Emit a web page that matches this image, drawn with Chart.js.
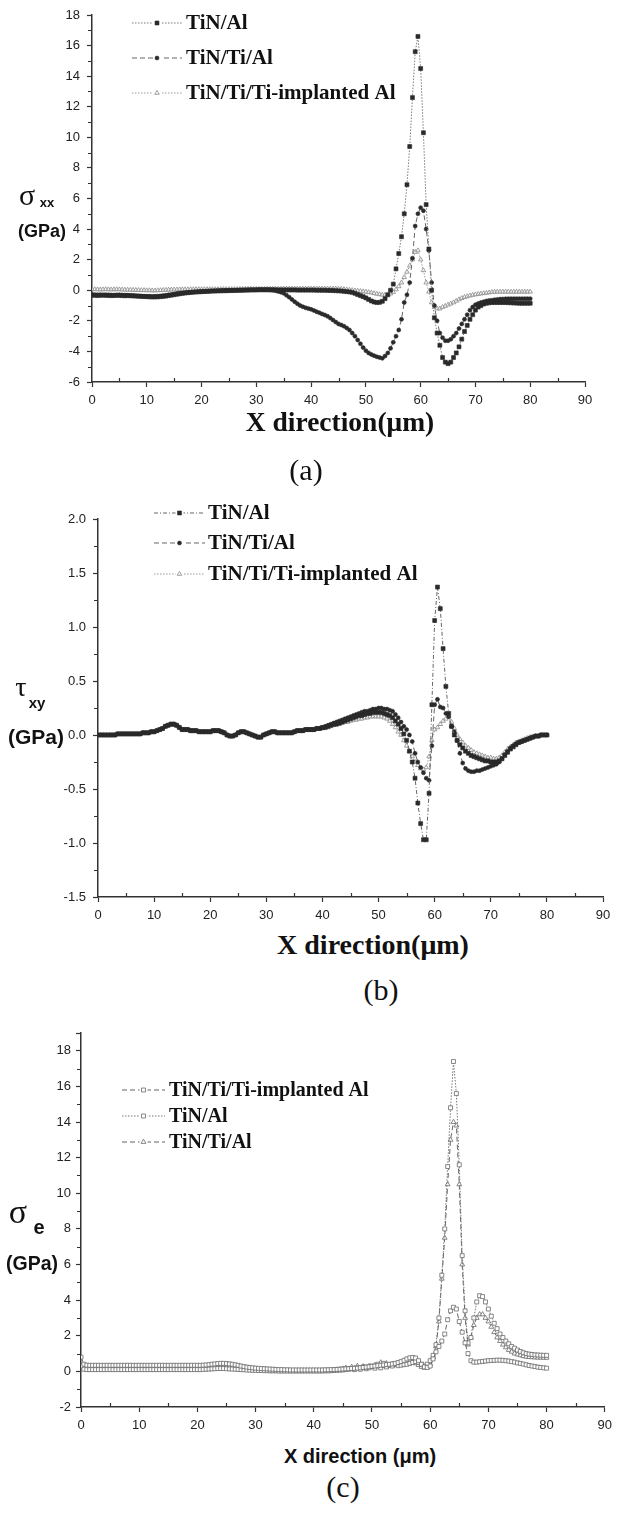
<!DOCTYPE html>
<html>
<head>
<meta charset="utf-8">
<title>Stress distribution along X direction</title>
<script src="https://cdn.jsdelivr.net/npm/chart.js@4.4.1/dist/chart.umd.min.js"></script>
<style>
  html, body { margin: 0; padding: 0; background: #fff; }
  #page { position: relative; width: 618px; height: 1514px; overflow: hidden; background: #fff; }
  canvas { position: absolute; left: 0; }
  .lbl { position: absolute; transform: translate(-50%, -50%); white-space: nowrap; line-height: 1; color: #111; }
  .serif { font-family: "Liberation Serif", "Times New Roman", serif; }
  .sans { font-family: "Liberation Sans", Arial, sans-serif; font-weight: bold; }
  .xt { font-weight: bold; }
  .panel { font-size: 30px; }
</style>
</head>
<body>
<div id="page">
  <canvas id="chartA" width="618" height="410" style="top:0px"></canvas>
  <canvas id="chartB" width="618" height="447" style="top:480px"></canvas>
  <canvas id="chartC" width="618" height="430" style="top:1010px"></canvas>

  <!-- panel (a) -->
  <div class="lbl serif" style="left:27px;top:195px;font-size:30px">σ</div>
  <div class="lbl sans" style="left:47px;top:202px;font-size:13px">xx</div>
  <div class="lbl sans" style="left:42px;top:231px;font-size:18px">(GPa)</div>
  <div class="lbl serif xt" style="left:340px;top:422px;font-size:27.5px">X direction(μm)</div>
  <div class="lbl serif panel" style="left:306px;top:470px">(a)</div>

  <!-- panel (b) -->
  <div class="lbl serif" style="left:21px;top:687px;font-size:28px">τ</div>
  <div class="lbl sans" style="left:37px;top:702px;font-size:15px">xy</div>
  <div class="lbl sans" style="left:36px;top:736px;font-size:21px">(GPa)</div>
  <div class="lbl serif xt" style="left:373px;top:945px;font-size:28px">X direction(μm)</div>
  <div class="lbl serif panel" style="left:381px;top:990px">(b)</div>

  <!-- panel (c) -->
  <div class="lbl serif" style="left:18px;top:1212px;font-size:34px">σ</div>
  <div class="lbl sans" style="left:39px;top:1227px;font-size:20px">e</div>
  <div class="lbl sans" style="left:32px;top:1264px;font-size:19.5px">(GPa)</div>
  <div class="lbl sans" style="left:360px;top:1456px;font-size:20px">X direction (μm)</div>
  <div class="lbl serif panel" style="left:343px;top:1487px">(c)</div>
</div>

<script>
// sampling grid: one point every 0.5 um, 0 .. 80 um (161 points)
const X_STEP_UM = 0.5;

// ---- panel (a): sigma_xx (GPa) ----
const SXX_TIN_AL = [
  -0.32,-0.33,-0.34,-0.33,-0.32,-0.33,-0.34,-0.35,-0.34,-0.33,-0.34,-0.35,-0.36,-0.35,-0.36,-0.37,-0.38,-0.39,-0.40,-0.41,
  -0.42,-0.43,-0.44,-0.44,-0.43,-0.42,-0.40,-0.38,-0.35,-0.32,-0.29,-0.26,-0.23,-0.20,-0.18,-0.16,-0.14,-0.12,-0.11,-0.10,
  -0.09,-0.08,-0.07,-0.06,-0.05,-0.05,-0.04,-0.04,-0.03,-0.03,-0.02,-0.02,-0.01,-0.01,0,0,0.01,0.01,0.02,0.02,
  0.02,0.03,0.03,0.03,0.03,0.03,0.03,0.03,0.02,0.02,0.02,0.02,0.02,0.02,0.02,0.01,0.01,0.01,0.01,0.01,
  0.01,0.01,0,0,0,0,-0.01,-0.01,-0.02,-0.03,-0.04,-0.05,-0.07,-0.09,-0.11,-0.14,-0.2,-0.28,-0.35,-0.42,
  -0.5,-0.6,-0.7,-0.77,-0.8,-0.79,-0.72,-0.55,-0.3,0.0,0.4,1.4,2.4,3.5,5.0,6.9,9.4,12.6,15.6,16.6,
  14.5,10.3,5.6,2.7,0.0,-1.8,-2.8,-3.6,-4.4,-4.7,-4.8,-4.7,-4.4,-4.1,-3.7,-3.2,-2.7,-2.3,-1.9,-1.6,
  -1.3,-1.1,-1.0,-0.9,-0.85,-0.82,-0.8,-0.8,-0.8,-0.8,-0.8,-0.8,-0.81,-0.82,-0.83,-0.84,-0.85,-0.85,-0.85,-0.85,
  -0.85
];
const SXX_TIN_TI_AL = [
  -0.28,-0.29,-0.3,-0.3,-0.31,-0.3,-0.3,-0.31,-0.32,-0.31,-0.3,-0.31,-0.32,-0.33,-0.34,-0.35,-0.36,-0.37,-0.38,-0.39,
  -0.4,-0.4,-0.41,-0.4,-0.39,-0.37,-0.35,-0.33,-0.3,-0.28,-0.25,-0.22,-0.2,-0.18,-0.16,-0.14,-0.13,-0.12,-0.11,-0.1,
  -0.09,-0.08,-0.07,-0.06,-0.05,-0.04,-0.03,-0.02,-0.02,-0.01,-0.01,0,0,0.01,0.01,0.02,0.02,0.03,0.03,0.03,
  0.04,0.04,0.04,0.03,0.03,0.02,0.0,-0.03,-0.08,-0.13,-0.2,-0.32,-0.45,-0.6,-0.75,-0.88,-1.0,-1.08,-1.15,-1.2,
  -1.25,-1.32,-1.4,-1.47,-1.55,-1.62,-1.7,-1.82,-1.95,-2.08,-2.2,-2.27,-2.35,-2.47,-2.6,-2.8,-3.0,-3.25,-3.5,-3.75,
  -3.95,-4.1,-4.2,-4.28,-4.35,-4.4,-4.45,-4.3,-4.1,-3.8,-3.4,-3.0,-2.6,-1.9,-0.8,-0.3,0.5,2.1,4.2,5.0,
  5.4,5.2,4.0,2.6,0.5,-1.0,-2.0,-2.8,-3.1,-3.3,-3.3,-3.2,-3.0,-2.8,-2.5,-2.2,-1.9,-1.6,-1.3,-1.1,
  -0.95,-0.87,-0.8,-0.75,-0.7,-0.67,-0.65,-0.62,-0.6,-0.58,-0.57,-0.56,-0.55,-0.55,-0.55,-0.55,-0.55,-0.55,-0.55,-0.55,
  -0.55
];
const SXX_IMPL = [
  0.05,0.06,0.05,0.04,0.05,0.06,0.05,0.04,0.05,0.06,0.05,0.04,0.03,0.03,0.02,0.02,0.01,0.01,0.0,0.0,
  -0.01,-0.01,-0.02,-0.02,-0.01,0,0.01,0.02,0.03,0.03,0.04,0.04,0.05,0.05,0.05,0.05,0.06,0.06,0.06,0.06,
  0.06,0.06,0.06,0.06,0.06,0.06,0.06,0.06,0.07,0.07,0.07,0.07,0.07,0.07,0.07,0.07,0.08,0.08,0.08,0.08,
  0.08,0.08,0.08,0.08,0.09,0.09,0.09,0.09,0.09,0.09,0.1,0.1,0.1,0.1,0.1,0.1,0.1,0.1,0.1,0.1,
  0.1,0.1,0.1,0.1,0.1,0.1,0.1,0.1,0.1,0.1,0.09,0.08,0.06,0.04,0.02,0.0,-0.02,-0.04,-0.06,-0.08,
  -0.1,-0.13,-0.16,-0.2,-0.24,-0.27,-0.3,-0.3,-0.28,-0.22,-0.12,0.05,0.25,0.5,0.85,1.2,1.6,2.0,2.5,2.6,
  2.0,1.3,0.5,-0.1,-0.8,-1.1,-1.2,-1.2,-1.1,-1.03,-0.95,-0.88,-0.8,-0.7,-0.6,-0.52,-0.45,-0.4,-0.35,-0.31,
  -0.28,-0.25,-0.22,-0.2,-0.18,-0.15,-0.12,-0.11,-0.1,-0.1,-0.1,-0.1,-0.1,-0.1,-0.1,-0.1,-0.1,-0.1,-0.1,-0.1,
  -0.1
];

// ---- panel (b): tau_xy (GPa) ----
// 0 .. 39.5 um, the three curves lie on top of each other here
const TXY_BASE = [
  0,0,0,0,0,0,0,0.01,0.01,0.01,0.01,0.01,0.01,0.01,0.01,0.01,0.02,0.02,0.02,0.03,
  0.03,0.04,0.05,0.06,0.08,0.09,0.1,0.1,0.09,0.07,0.05,0.05,0.05,0.04,0.04,0.04,0.03,0.03,0.03,0.03,
  0.03,0.04,0.04,0.04,0.03,0.02,0.0,-0.01,-0.01,0.0,0.02,0.03,0.03,0.02,0.01,0.0,-0.01,-0.02,-0.02,0.0,
  0.01,0.02,0.03,0.03,0.02,0.02,0.02,0.02,0.02,0.02,0.03,0.04,0.04,0.04,0.05,0.05,0.05,0.05,0.06,0.06
];
const TXY_TIN_AL = TXY_BASE.concat([
  0.07,0.07,0.08,0.09,0.1,0.1,0.11,0.12,0.13,0.14,0.15,0.16,0.17,0.18,0.18,0.19,0.2,0.2,0.21,0.21,
  0.21,0.21,0.2,0.19,0.18,0.16,0.13,0.1,0.06,0.01,-0.05,-0.15,-0.25,-0.4,-0.63,-0.82,-0.97,-0.97,-0.54,0.28,
  1.06,1.37,1.17,0.8,0.45,0.2,0.08,0.0,-0.05,-0.09,-0.12,-0.15,-0.17,-0.19,-0.2,-0.21,-0.22,-0.23,-0.24,-0.24,
  -0.25,-0.25,-0.25,-0.24,-0.22,-0.19,-0.16,-0.13,-0.11,-0.09,-0.07,-0.06,-0.05,-0.04,-0.03,-0.02,-0.01,-0.01,0.0,0.0,
  0.0
]);
const TXY_TIN_TI_AL = TXY_BASE.concat([
  0.07,0.08,0.09,0.1,0.11,0.12,0.13,0.14,0.15,0.16,0.17,0.18,0.19,0.2,0.21,0.22,0.22,0.23,0.24,0.24,
  0.25,0.25,0.24,0.24,0.23,0.22,0.19,0.16,0.12,0.08,0.05,0.0,-0.06,-0.17,-0.25,-0.3,-0.35,-0.4,-0.42,-0.1,
  0.28,0.33,0.26,0.25,0.2,0.17,0.08,0.03,-0.05,-0.17,-0.26,-0.31,-0.33,-0.34,-0.34,-0.33,-0.33,-0.32,-0.31,-0.3,
  -0.29,-0.28,-0.27,-0.25,-0.22,-0.18,-0.15,-0.12,-0.1,-0.08,-0.07,-0.06,-0.05,-0.04,-0.03,-0.02,-0.01,-0.01,0.0,0.0,
  0.0
]);
const TXY_IMPL = TXY_BASE.concat([
  0.06,0.07,0.07,0.08,0.09,0.1,0.1,0.11,0.12,0.12,0.13,0.14,0.14,0.15,0.15,0.16,0.16,0.17,0.17,0.17,
  0.17,0.17,0.16,0.15,0.13,0.1,0.07,0.03,0.0,-0.05,-0.1,-0.15,-0.2,-0.25,-0.28,-0.31,-0.32,-0.3,-0.2,-0.05,
  0.05,0.07,0.1,0.13,0.15,0.17,0.12,0.06,0.0,-0.04,-0.07,-0.1,-0.12,-0.14,-0.16,-0.17,-0.18,-0.19,-0.2,-0.21,
  -0.21,-0.22,-0.22,-0.21,-0.19,-0.16,-0.13,-0.11,-0.09,-0.07,-0.06,-0.05,-0.04,-0.03,-0.02,-0.02,-0.01,-0.01,0.0,0.0,
  0.0
]);

// ---- panel (c): sigma_e (GPa) ----
const SE_IMPL = [
  0.8,0.4,0.35,0.34,0.34,0.34,0.34,0.34,0.34,0.34,0.34,0.34,0.34,0.34,0.34,0.34,0.34,0.34,0.34,0.34,
  0.34,0.34,0.34,0.34,0.34,0.34,0.34,0.34,0.34,0.34,0.34,0.34,0.34,0.34,0.34,0.34,0.34,0.34,0.34,0.34,
  0.34,0.34,0.35,0.36,0.38,0.4,0.42,0.44,0.45,0.45,0.44,0.42,0.4,0.37,0.34,0.3,0.27,0.24,0.22,0.2,
  0.18,0.17,0.16,0.15,0.14,0.13,0.12,0.11,0.1,0.1,0.09,0.09,0.08,0.08,0.08,0.08,0.08,0.08,0.08,0.08,
  0.08,0.08,0.08,0.08,0.09,0.09,0.1,0.1,0.11,0.12,0.13,0.14,0.15,0.16,0.17,0.18,0.2,0.22,0.24,0.26,
  0.28,0.3,0.32,0.34,0.36,0.38,0.4,0.42,0.45,0.5,0.55,0.62,0.7,0.76,0.78,0.75,0.6,0.4,0.25,0.22,
  0.3,0.7,1.1,1.4,1.7,2.1,2.9,3.4,3.6,3.5,2.8,2.2,1.6,1.0,0.6,0.52,0.52,0.54,0.56,0.58,
  0.6,0.61,0.62,0.63,0.63,0.62,0.6,0.58,0.55,0.52,0.48,0.45,0.41,0.37,0.33,0.3,0.27,0.24,0.22,0.2,
  0.18
];
const SE_TIN_AL = [
  0.3,0.12,0.1,0.1,0.1,0.1,0.1,0.1,0.1,0.1,0.1,0.1,0.1,0.1,0.1,0.1,0.1,0.1,0.1,0.1,
  0.1,0.1,0.1,0.1,0.1,0.1,0.1,0.1,0.1,0.1,0.1,0.1,0.1,0.1,0.1,0.1,0.1,0.1,0.1,0.1,
  0.1,0.1,0.11,0.12,0.13,0.14,0.15,0.16,0.16,0.16,0.15,0.14,0.13,0.12,0.11,0.1,0.09,0.08,0.07,0.06,
  0.06,0.05,0.05,0.04,0.04,0.03,0.03,0.03,0.02,0.02,0.02,0.02,0.02,0.02,0.02,0.02,0.02,0.02,0.02,0.02,
  0.02,0.02,0.02,0.02,0.03,0.03,0.04,0.05,0.06,0.07,0.08,0.1,0.12,0.15,0.1,0.2,0.12,0.25,0.15,0.2,
  0.3,0.18,0.4,0.2,0.45,0.25,0.35,0.3,0.4,0.32,0.35,0.38,0.4,0.45,0.5,0.55,0.5,0.4,0.3,0.4,
  0.6,0.9,1.5,3.0,5.4,8.0,11.5,14.8,17.4,15.6,11.6,6.5,3.4,1.6,1.9,3.0,3.9,4.25,4.2,3.9,
  3.5,3.1,2.7,2.4,2.1,1.9,1.7,1.55,1.4,1.3,1.2,1.12,1.05,1.0,0.97,0.95,0.93,0.92,0.91,0.9,
  0.9
];
const SE_TIN_TI_AL = [
  0.2,0.2,0.2,0.2,0.2,0.2,0.2,0.2,0.2,0.2,0.2,0.2,0.2,0.2,0.2,0.2,0.2,0.2,0.2,0.2,
  0.2,0.2,0.2,0.2,0.2,0.2,0.2,0.2,0.2,0.2,0.2,0.2,0.2,0.2,0.2,0.2,0.2,0.2,0.2,0.2,
  0.2,0.2,0.21,0.22,0.24,0.26,0.28,0.3,0.3,0.29,0.27,0.25,0.22,0.2,0.17,0.15,0.13,0.11,0.1,0.09,
  0.08,0.07,0.06,0.05,0.05,0.04,0.04,0.03,0.03,0.03,0.03,0.03,0.03,0.03,0.03,0.03,0.03,0.03,0.03,0.03,
  0.03,0.03,0.03,0.04,0.04,0.05,0.06,0.08,0.1,0.12,0.15,0.2,0.15,0.25,0.18,0.3,0.2,0.28,0.22,0.3,
  0.25,0.35,0.28,0.5,0.3,0.45,0.3,0.4,0.35,0.45,0.4,0.5,0.55,0.6,0.55,0.45,0.35,0.25,0.2,0.25,
  0.4,0.8,1.4,2.8,5.2,7.5,10.5,13.0,14.0,13.8,10.5,6.0,3.0,1.5,1.9,2.6,3.0,3.2,3.2,3.0,
  2.8,2.5,2.2,1.9,1.7,1.5,1.35,1.2,1.1,1.0,0.95,0.9,0.85,0.82,0.8,0.79,0.78,0.77,0.77,0.76,
  0.76
];

// minor tick positions
const X_MINOR = [5, 15, 25, 35, 45, 55, 65, 75, 85];
const SXX_MINOR = [-5, -3, -1, 1, 3, 5, 7, 9, 11, 13, 15, 17];
const TXY_MINOR = [-1.25, -0.75, -0.25, 0.25, 0.75, 1.25, 1.75];
const SE_MINOR = [-1, 1, 3, 5, 7, 9, 11, 13, 15, 17];

const AXIS = '#333';
const DARK = '#2a2a2a';

Chart.defaults.font.family = '"Liberation Sans", Arial, sans-serif';

function toPoints(ys) {
  return ys.map((v, i) => ({ x: i * X_STEP_UM, y: v }));
}

function markerPath(ctx, style, r, x, y) {
  ctx.beginPath();
  if (style === 'rect') {
    const s = Math.SQRT1_2 * r;
    ctx.rect(x - s, y - s, 2 * s, 2 * s);
  } else if (style === 'triangle') {
    for (let k = 0; k < 3; k++) {
      const a = k * 2 * Math.PI / 3;
      const px = x + Math.sin(a) * r, py = y - Math.cos(a) * r;
      if (k === 0) ctx.moveTo(px, py); else ctx.lineTo(px, py);
    }
    ctx.closePath();
  } else {
    ctx.arc(x, y, r, 0, Math.PI * 2);
  }
}

// legend in the style of the paper: short line, marker in the middle, bold serif text
const lineLegend = {
  id: 'lineLegend',
  afterDraw(chart, args, opts) {
    const ctx = chart.ctx;
    ctx.save();
    chart.data.datasets.forEach((ds, i) => {
      const y = opts.rows[i];
      ctx.strokeStyle = ds.borderColor;
      ctx.lineWidth = 1;
      ctx.setLineDash(ds.borderDash || []);
      ctx.beginPath();
      ctx.moveTo(opts.x0, y);
      ctx.lineTo(opts.x1, y);
      ctx.stroke();
      ctx.setLineDash([]);
      ctx.fillStyle = '#fff';
      ctx.fillRect((opts.x0 + opts.x1) / 2 - 4, y - 4, 8, 8);
      markerPath(ctx, ds.pointStyle, ds.pointRadius, (opts.x0 + opts.x1) / 2, y);
      ctx.fillStyle = ds.pointBackgroundColor;
      ctx.fill();
      ctx.strokeStyle = ds.pointBorderColor;
      ctx.lineWidth = ds.pointBorderWidth;
      ctx.stroke();
      ctx.fillStyle = '#111';
      ctx.font = opts.font;
      ctx.textBaseline = 'middle';
      ctx.textAlign = 'left';
      ctx.fillText(ds.label, opts.tx, y + 1);
    });
    ctx.restore();
  }
};

// Origin-like minor ticks: inside on the x axis, outside on the y axis
const minorTicks = {
  id: 'minorTicks',
  afterDraw(chart, args, opts) {
    const { ctx, chartArea } = chart;
    const xs = chart.scales.x, ys = chart.scales.y;
    ctx.save();
    ctx.strokeStyle = AXIS;
    ctx.lineWidth = 1.2;
    ctx.beginPath();
    opts.x.forEach(v => {
      const px = Math.round(xs.getPixelForValue(v)) + 0.5;
      ctx.moveTo(px, chartArea.bottom);
      ctx.lineTo(px, chartArea.bottom - 4);
    });
    opts.y.forEach(v => {
      const py = Math.round(ys.getPixelForValue(v)) + 0.5;
      ctx.moveTo(chartArea.left, py);
      ctx.lineTo(chartArea.left - 4, py);
    });
    ctx.stroke();
    ctx.restore();
  }
};

function makeOptions(cfg) {
  const tickFont = { family: '"Liberation Sans", Arial, sans-serif', size: 13 };
  const grid = { display: true, drawOnChartArea: false, drawTicks: true, tickLength: cfg.tickLen, tickColor: AXIS, tickWidth: 1.2 };
  const border = { display: true, color: AXIS, width: 1.5 };
  return {
    responsive: false,
    animation: false,
    events: [],
    layout: { padding: cfg.padding },
    plugins: {
      legend: { display: false },
      tooltip: { enabled: false },
      lineLegend: cfg.legend,
      minorTicks: cfg.minor
    },
    scales: {
      x: {
        type: 'linear', min: 0, max: 90,
        afterFit: axis => { axis.height = cfg.xHeight; },
        ticks: { stepSize: 10, autoSkip: false, maxRotation: 0, padding: cfg.xPad, font: tickFont, color: '#222' },
        grid: grid, border: border
      },
      y: {
        type: 'linear', min: cfg.yMin, max: cfg.yMax, bounds: 'data',
        afterFit: axis => { axis.width = cfg.yWidth; },
        ticks: { stepSize: cfg.yStep, autoSkip: false, padding: cfg.yPad, font: tickFont, color: '#222',
                 callback: cfg.yFmt },
        grid: grid, border: border
      }
    }
  };
}

function lineSet(label, ys, style) {
  return Object.assign({
    label: label,
    data: toPoints(ys),
    borderWidth: 1,
    tension: 0,
    fill: false,
    pointBorderWidth: 0.6
  }, style);
}

const STYLE_SQ = { borderColor: '#7a7a7a', borderDash: [1.5, 1.5], pointStyle: 'rect', pointRadius: 2.8,
                   pointBackgroundColor: DARK, pointBorderColor: DARK };
const STYLE_CIR = { borderColor: '#666', borderDash: [5, 3], pointStyle: 'circle', pointRadius: 2,
                    pointBackgroundColor: DARK, pointBorderColor: DARK };
const STYLE_TRI = { borderColor: '#9a9a9a', borderDash: [1.5, 1.5], pointStyle: 'triangle', pointRadius: 2.6,
                    pointBackgroundColor: 'rgba(255,255,255,0.7)', pointBorderColor: '#888', pointBorderWidth: 0.8 };

// panel (a)
new Chart(document.getElementById('chartA'), {
  type: 'line',
  data: {
    datasets: [
      lineSet('TiN/Al', SXX_TIN_AL, STYLE_SQ),
      lineSet('TiN/Ti/Al', SXX_TIN_TI_AL, STYLE_CIR),
      lineSet('TiN/Ti/Ti-implanted Al', SXX_IMPL, STYLE_TRI)
    ]
  },
  options: makeOptions({
    padding: { left: 0, top: 15, right: 33, bottom: 0 },
    xHeight: 28, yWidth: 92, tickLen: 5, xPad: 6, yPad: 7,
    yMin: -6, yMax: 18, yStep: 2, yFmt: v => String(v),
    legend: { rows: [23, 58, 93], x0: 132, x1: 182, tx: 186, font: 'bold 21px "Liberation Serif", "Times New Roman", serif' },
    minor: { x: X_MINOR, y: SXX_MINOR }
  }),
  plugins: [lineLegend, minorTicks]
});

// panel (b)
new Chart(document.getElementById('chartB'), {
  type: 'line',
  data: {
    datasets: [
      lineSet('TiN/Al', TXY_TIN_AL, Object.assign({}, STYLE_SQ, { borderColor: '#666', borderDash: [4, 2, 1, 2] })),
      lineSet('TiN/Ti/Al', TXY_TIN_TI_AL, STYLE_CIR),
      lineSet('TiN/Ti/Ti-implanted Al', TXY_IMPL, STYLE_TRI)
    ]
  },
  options: makeOptions({
    padding: { left: 0, top: 39, right: 15, bottom: 0 },
    xHeight: 30, yWidth: 98, tickLen: 5, xPad: 6, yPad: 7,
    yMin: -1.5, yMax: 2.0, yStep: 0.5, yFmt: v => v.toFixed(1),
    legend: { rows: [33, 63, 94], x0: 154, x1: 205, tx: 208, font: 'bold 21px "Liberation Serif", "Times New Roman", serif' },
    minor: { x: X_MINOR, y: TXY_MINOR }
  }),
  plugins: [lineLegend, minorTicks]
});

// panel (c): axis runs up to 19 but the last labelled tick is 18
const OPEN_SQ = { pointStyle: 'rect', pointRadius: 2.8, pointBackgroundColor: '#fff', pointBorderColor: '#6a6a6a', pointBorderWidth: 0.8 };
new Chart(document.getElementById('chartC'), {
  type: 'line',
  data: {
    datasets: [
      lineSet('TiN/Ti/Ti-implanted Al', SE_IMPL, Object.assign({ borderColor: '#666', borderDash: [5, 3] }, OPEN_SQ)),
      lineSet('TiN/Al', SE_TIN_AL, Object.assign({ borderColor: '#777', borderDash: [1.5, 1.5] }, OPEN_SQ)),
      lineSet('TiN/Ti/Al', SE_TIN_TI_AL, { borderColor: '#666', borderDash: [5, 3], pointStyle: 'triangle', pointRadius: 2.8,
                                           pointBackgroundColor: '#fff', pointBorderColor: '#6a6a6a', pointBorderWidth: 0.8 })
    ]
  },
  options: makeOptions({
    padding: { left: 0, top: 23, right: 10, bottom: 0 },
    xHeight: 33, yWidth: 81, tickLen: 5, xPad: 6, yPad: 5,
    yMin: -2, yMax: 19, yStep: 2, yFmt: v => (v > 18 ? '' : String(v)),
    legend: { rows: [80, 106, 132], x0: 122, x1: 165, tx: 169, font: 'bold 20px "Liberation Serif", "Times New Roman", serif' },
    minor: { x: X_MINOR, y: SE_MINOR }
  }),
  plugins: [lineLegend, minorTicks]
});
</script>
</body>
</html>
